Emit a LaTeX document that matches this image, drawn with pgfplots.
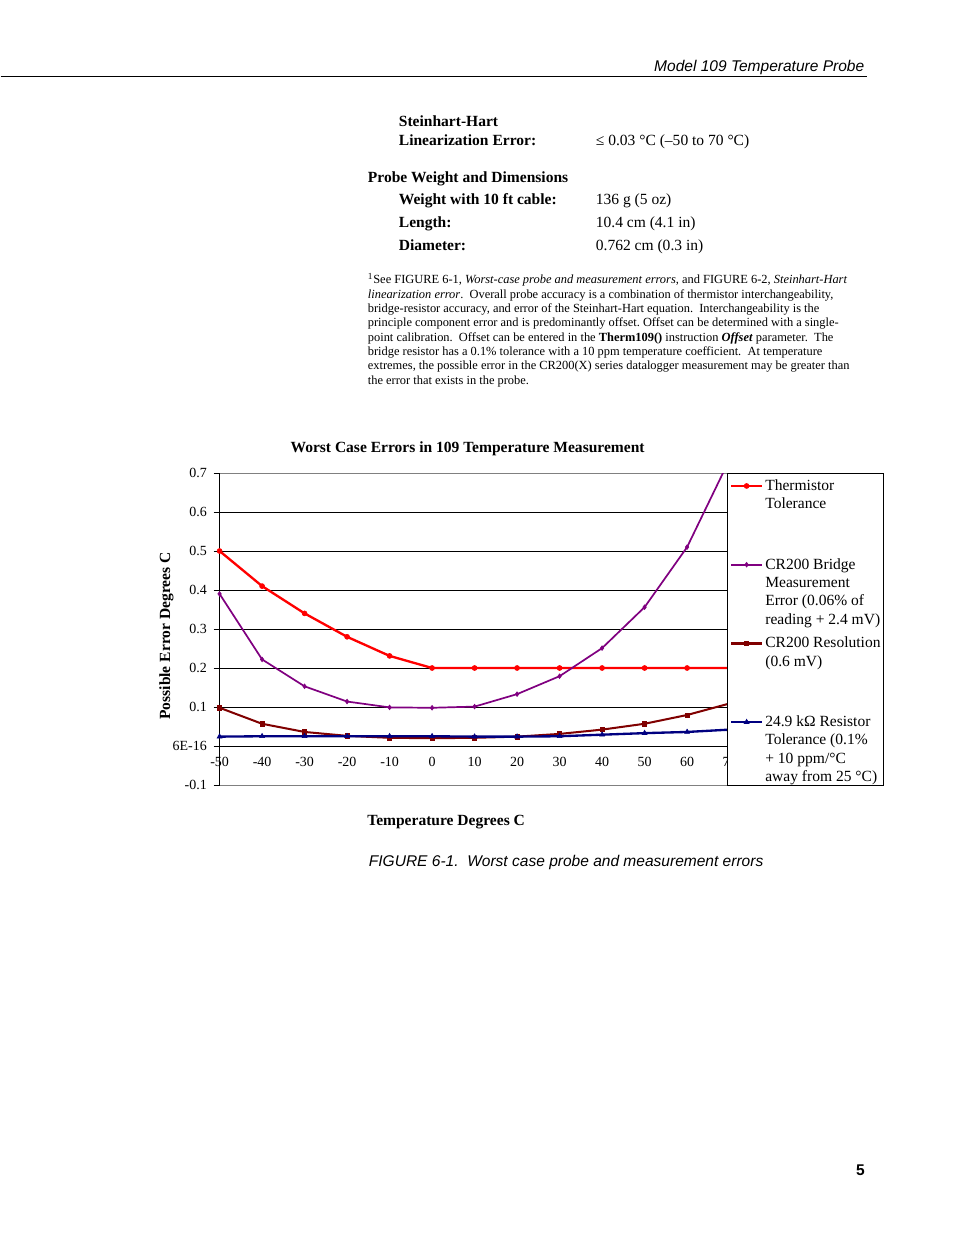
\documentclass[border=0pt]{standalone}
\usepackage{fontspec}
\setmainfont{Liberation Serif}
\newfontfamily\arial{Liberation Sans}
\usepackage{pgfplots}
\pgfplotsset{compat=1.18}
\definecolor{thermred}{RGB}{255,0,0}
\definecolor{bridgepurple}{RGB}{128,0,128}
\definecolor{resmaroon}{RGB}{128,0,0}
\definecolor{resnavy}{RGB}{0,0,128}
\definecolor{framegray}{RGB}{128,128,128}
\frenchspacing
\newcommand{\lgd}[1]{\parbox[t]{80pt}{\raggedright\hyphenpenalty=10000 #1}}

\begin{document}
\begin{tikzpicture}[x=0.6439pt, y=-0.6439pt,
  txt/.style={anchor=base west, inner sep=0pt, font=\fontsize{10}{12}\selectfont},
  fn/.style={anchor=base west, inner sep=0pt, font=\fontsize{8}{9.2}\selectfont}]
\fill[white] (0,0) rectangle (954,1235);

% page header
\node[anchor=base east, inner sep=0pt, font=\arial\itshape\fontsize{10}{12}\selectfont] at (864,71.5) {Model 109 Temperature Probe};
\draw[line width=0.75pt] (0,76.3) -- (866.5,76.3);

% specification table
\node[txt, font=\bfseries\fontsize{10}{12}\selectfont] at (398,126.7) {Steinhart-Hart};
\node[txt, font=\bfseries\fontsize{10}{12}\selectfont] at (398,145.7) {Linearization Error:};
\node[txt] at (595,145.7) {≤ 0.03 °C (–50 to 70 °C)};
\node[txt, font=\bfseries\fontsize{10}{12}\selectfont] at (367,182.7) {Probe Weight and Dimensions};
\node[txt, font=\bfseries\fontsize{10}{12}\selectfont] at (398,204.3) {Weight with 10 ft cable:};
\node[txt] at (595,204.3) {136 g (5 oz)};
\node[txt, font=\bfseries\fontsize{10}{12}\selectfont] at (398,227.7) {Length:};
\node[txt] at (595,227.7) {10.4 cm (4.1 in)};
\node[txt, font=\bfseries\fontsize{10}{12}\selectfont] at (398,250.5) {Diameter:};
\node[txt] at (595,250.5) {0.762 cm (0.3 in)};

% footnote
\node[fn] at (367,284) {\textsuperscript{1}See FIGURE 6-1, \textit{Worst-case probe and measurement errors}, and FIGURE 6-2, \textit{Steinhart-Hart}};
\node[fn] at (367,298.3) {\textit{linearization error}.~ Overall probe accuracy is a combination of thermistor interchangeability,};
\node[fn] at (367,312.6) {bridge-resistor accuracy, and error of the Steinhart-Hart equation.~ Interchangeability is the};
\node[fn] at (367,326.9) {principle component error and is predominantly offset. Offset can be determined with a single-};
\node[fn] at (367,341.2) {point calibration.~ Offset can be entered in the \textbf{Therm109()} instruction \textbf{\textit{Offset}} parameter.~ The};
\node[fn] at (367,355.5) {bridge resistor has a 0.1\% tolerance with a 10 ppm temperature coefficient.~ At temperature};
\node[fn] at (367,369.8) {extremes, the possible error in the CR200(X) series datalogger measurement may be greater than};
\node[fn] at (367,384.1) {the error that exists in the probe.};

% chart
\node[anchor=base, inner sep=0pt, font=\bfseries\fontsize{10}{12}\selectfont] at (467,452.5) {Worst Case Errors in 109 Temperature Measurement};

\begin{axis}[
  at={(141.01pt,-505.46pt)}, anchor=south west,
  scale only axis, width=328.4pt, height=200.9pt,
  xmin=-50, xmax=70, ymin=-0.1, ymax=0.7,
  axis y line*=left, axis x line*=middle,
  hide obscured x ticks=false, hide obscured y ticks=false,
  xtick={-50,-40,-30,-20,-10,0,10,20,30,40,50,60,70},
  xticklabels={-50,-40,-30,-20,-10,0,10,20,30,40,50,60,70},
  ytick={0,0.1,0.2,0.3,0.4,0.5,0.6},
  yticklabels={6E-16,0.1,0.2,0.3,0.4,0.5,0.6},
  extra y ticks={-0.1,0.7}, extra y tick labels={-0.1,0.7},
  extra y tick style={grid=none},
  ymajorgrids, grid style={black, line width=0.6pt},
  axis line style={black, line width=0.6pt},
  ytick align=outside, major tick length=3.9pt,
  tick style={black, line width=0.6pt},
  xtick style={draw=none},
  tick label style={font=\fontsize{9}{10}\selectfont},
  xticklabel style={yshift=-3.4pt},
  yticklabel style={xshift=-0.8pt},
  axis background/.style={draw=framegray, line width=0.6pt},
  clip mode=individual,
  legend style={at={(0.99608,1)}, anchor=north west, draw=none, fill=none,
    inner xsep=1.3pt, inner ysep=3.95pt, row sep=3.68pt, column sep=1.3pt,
    cells={anchor=base west},
    nodes={inner sep=0pt, text height=7pt, text depth=40pt, font=\fontsize{10}{11.8}\selectfont}},
  legend image code/.code={\draw[mark repeat=2,mark phase=2,#1] plot coordinates {(0pt,2.8pt) (10pt,2.8pt) (20pt,2.8pt)};},
  legend image post style={line width=1.5pt},
]
\addplot[thermred, line width=1.5pt, mark=*, mark size=1.6pt, mark options={line width=0.4pt}] coordinates {
  (-50,0.5) (-40,0.41) (-30,0.34) (-20,0.28) (-10,0.231) (0,0.2) (10,0.2)
  (20,0.2) (30,0.2) (40,0.2) (50,0.2) (60,0.2) (70,0.2)};
\addlegendentry{\lgd{Thermistor\\Tolerance}}
\addplot[bridgepurple, line width=1.1pt, mark=diamond*, mark size=1.5pt, mark options={line width=0.4pt}] coordinates {
  (-50,0.39) (-40,0.222) (-30,0.153) (-20,0.114) (-10,0.099) (0,0.098) (10,0.101)
  (20,0.133) (30,0.179) (40,0.251) (50,0.356) (60,0.51) (70,0.735)};
\addlegendentry{\lgd{CR200 Bridge\\Measurement\\Error (0.06\% of\\reading + 2.4 mV)}}
\addplot[resmaroon, line width=1.3pt, mark=square*, mark size=1.4pt, mark options={line width=0.4pt}] coordinates {
  (-50,0.098) (-40,0.057) (-30,0.036) (-20,0.026) (-10,0.021) (0,0.02) (10,0.021)
  (20,0.024) (30,0.031) (40,0.042) (50,0.057) (60,0.0795) (70,0.109)};
\addlegendentry{\lgd{CR200 Resolution\\(0.6 mV)}}
\addplot[resnavy, line width=1.5pt, mark=triangle*, mark size=1.8pt, mark options={line width=0.4pt}] coordinates {
  (-50,0.024) (-40,0.025) (-30,0.025) (-20,0.025) (-10,0.025) (0,0.025) (10,0.024)
  (20,0.024) (30,0.025) (40,0.029) (50,0.033) (60,0.036) (70,0.042)};
\addlegendentry{\lgd{24.9 kΩ Resistor\\Tolerance (0.1\%\\+ 10 ppm/°C\\away from 25 °C)}}
\draw[black, fill=white, line width=0.6pt] (rel axis cs:0.99608,0) rectangle (rel axis cs:1.30196,1);
\end{axis}

\node[anchor=base, inner sep=0pt, rotate=90, font=\bfseries\fontsize{10}{12}\selectfont] at (169.5,636) {Possible Error Degrees C};
\node[anchor=base, inner sep=0pt, font=\bfseries\fontsize{10}{12}\selectfont] at (445.5,825.5) {Temperature Degrees C};

% caption and page number
\node[anchor=base west, inner sep=0pt, font=\arial\itshape\fontsize{10}{12}\selectfont] at (368,866) {FIGURE 6-1.\ \ Worst case probe and measurement errors};
\node[anchor=base east, inner sep=0pt, font=\arial\bfseries\fontsize{10}{12}\selectfont] at (864.5,1175.5) {5};
\end{tikzpicture}
\end{document}
